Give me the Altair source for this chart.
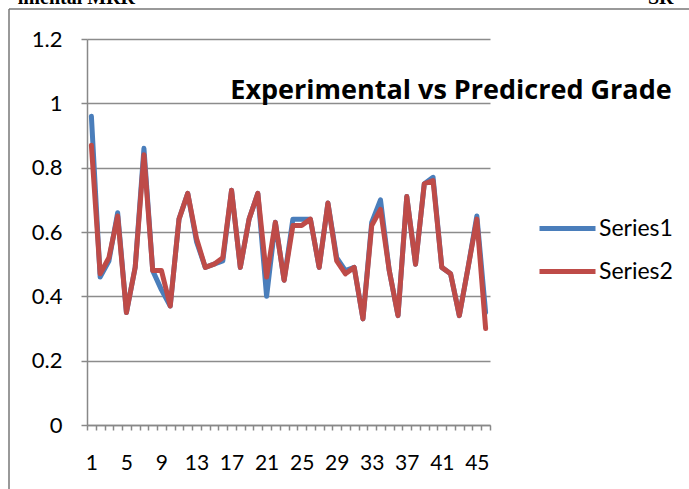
import altair as alt
import pandas as pd

series1 = [0.96, 0.46, 0.51, 0.66, 0.35, 0.49, 0.86, 0.48, 0.42, 0.37, 0.64, 0.72, 0.57, 0.49, 0.50, 0.51,
           0.73, 0.49, 0.64, 0.72, 0.40, 0.63, 0.45, 0.64, 0.64, 0.64, 0.49, 0.69, 0.52, 0.48, 0.49, 0.33,
           0.63, 0.70, 0.48, 0.34, 0.71, 0.50, 0.75, 0.77, 0.49, 0.47, 0.34, 0.49, 0.65, 0.35]
series2 = [0.87, 0.47, 0.52, 0.65, 0.35, 0.49, 0.84, 0.48, 0.48, 0.37, 0.64, 0.72, 0.58, 0.49, 0.50, 0.52,
           0.73, 0.49, 0.64, 0.72, 0.46, 0.63, 0.45, 0.62, 0.62, 0.64, 0.49, 0.69, 0.51, 0.47, 0.49, 0.33,
           0.62, 0.67, 0.48, 0.34, 0.71, 0.50, 0.75, 0.76, 0.49, 0.47, 0.34, 0.49, 0.64, 0.30]
series_names = ["Series1", "Series2"]
colors = ["#4A7EBB", "#BE4B48"]
y_ticks = [0, 0.2, 0.4, 0.6, 0.8, 1.0, 1.2]
title_text = "Experimental vs Predicred Grade"

n = len(series1)
rows = []
for i in range(n):
    rows.append({"idx": i + 1, "value": series1[i], "series": series_names[0]})
for i in range(n):
    rows.append({"idx": i + 1, "value": series2[i], "series": series_names[1]})
df = pd.DataFrame(rows)

W, H = 403, 386
FONT = "Lato"

x_ticks = [i + 0.5 for i in range(n + 1)]

lines = alt.Chart(df).mark_line(strokeWidth=5, strokeJoin="round", strokeCap="round").encode(
    x=alt.X("idx:Q",
            scale=alt.Scale(domain=[0.5, n + 0.5], nice=False, zero=False),
            axis=alt.Axis(values=x_ticks, title=None, grid=False,
                          labelExpr="(datum.value - 0.5) % 4 == 0 && datum.value < 46 ? format(datum.value + 0.5, 'd') : ''",
                          labelOffset=W / n / 2, labelFlush=False, labelOverlap=False,
                          labelFont=FONT, labelFontSize=21, labelColor="black", labelPadding=22,
                          tickSize=5, tickColor="#888888", tickWidth=1.5,
                          domainColor="#888888", domainWidth=1.5)),
    y=alt.Y("value:Q",
            scale=alt.Scale(domain=[0, 1.2], nice=False),
            axis=alt.Axis(values=y_ticks, format="~g", title=None, grid=True,
                          gridColor="#8c8c8c", gridWidth=1.5,
                          labelFont=FONT, labelFontSize=22, labelColor="black", labelPadding=19,
                          tickSize=6, tickColor="#888888", tickWidth=1.5,
                          domainColor="#888888", domainWidth=1.5)),
    color=alt.Color("series:N",
                    scale=alt.Scale(domain=series_names, range=colors),
                    legend=alt.Legend(title=None, orient="none", legendX=450, legendY=159,
                                      symbolType="stroke", symbolStrokeWidth=5, symbolSize=3136,
                                      labelFont=FONT, labelFontSize=23, labelColor="black",
                                      rowPadding=-9, labelOffset=1)),
    order=alt.Order("series:N"),
)

title = alt.Chart(pd.DataFrame({"t": [title_text]})).mark_text(
    font="Open Sans", fontSize=27, fontWeight="bold", color="black", align="center", baseline="middle"
).encode(x=alt.value(364), y=alt.value(52), text="t:N")

border = alt.Chart(pd.DataFrame({"a": [0]})).mark_rule(color="#777777", strokeWidth=1.5).encode(
    x=alt.value(-78), y=alt.value(-30), y2=alt.value(H + 80))
border_top = alt.Chart(pd.DataFrame({"a": [0]})).mark_rule(color="#777777", strokeWidth=1.5).encode(
    x=alt.value(-78), x2=alt.value(W + 220), y=alt.value(-30))

doc_left = alt.Chart(pd.DataFrame({"t": ["imental MRR"]})).mark_text(
    font="Liberation Serif", fontSize=20, fontWeight="bold", color="black", align="right", baseline="alphabetic"
).encode(x=alt.value(135 - 87), y=alt.value(4 - 39), text="t:N")
doc_right = alt.Chart(pd.DataFrame({"t": ["SR"]})).mark_text(
    font="Liberation Serif", fontSize=20, fontWeight="bold", color="black", align="left", baseline="alphabetic"
).encode(x=alt.value(648 - 87), y=alt.value(4 - 39), text="t:N")

chart = alt.layer(lines, title, border, border_top, doc_left, doc_right).properties(
    width=W, height=H,
    autosize=alt.AutoSizeParams(type="none"),
    padding={"left": 87, "top": 39, "right": 689 - 87 - W, "bottom": 489 - 39 - H},
    background="white",
).configure_view(stroke=None)

chart.save("out.html", embed_options={"renderer": "svg", "actions": False})
